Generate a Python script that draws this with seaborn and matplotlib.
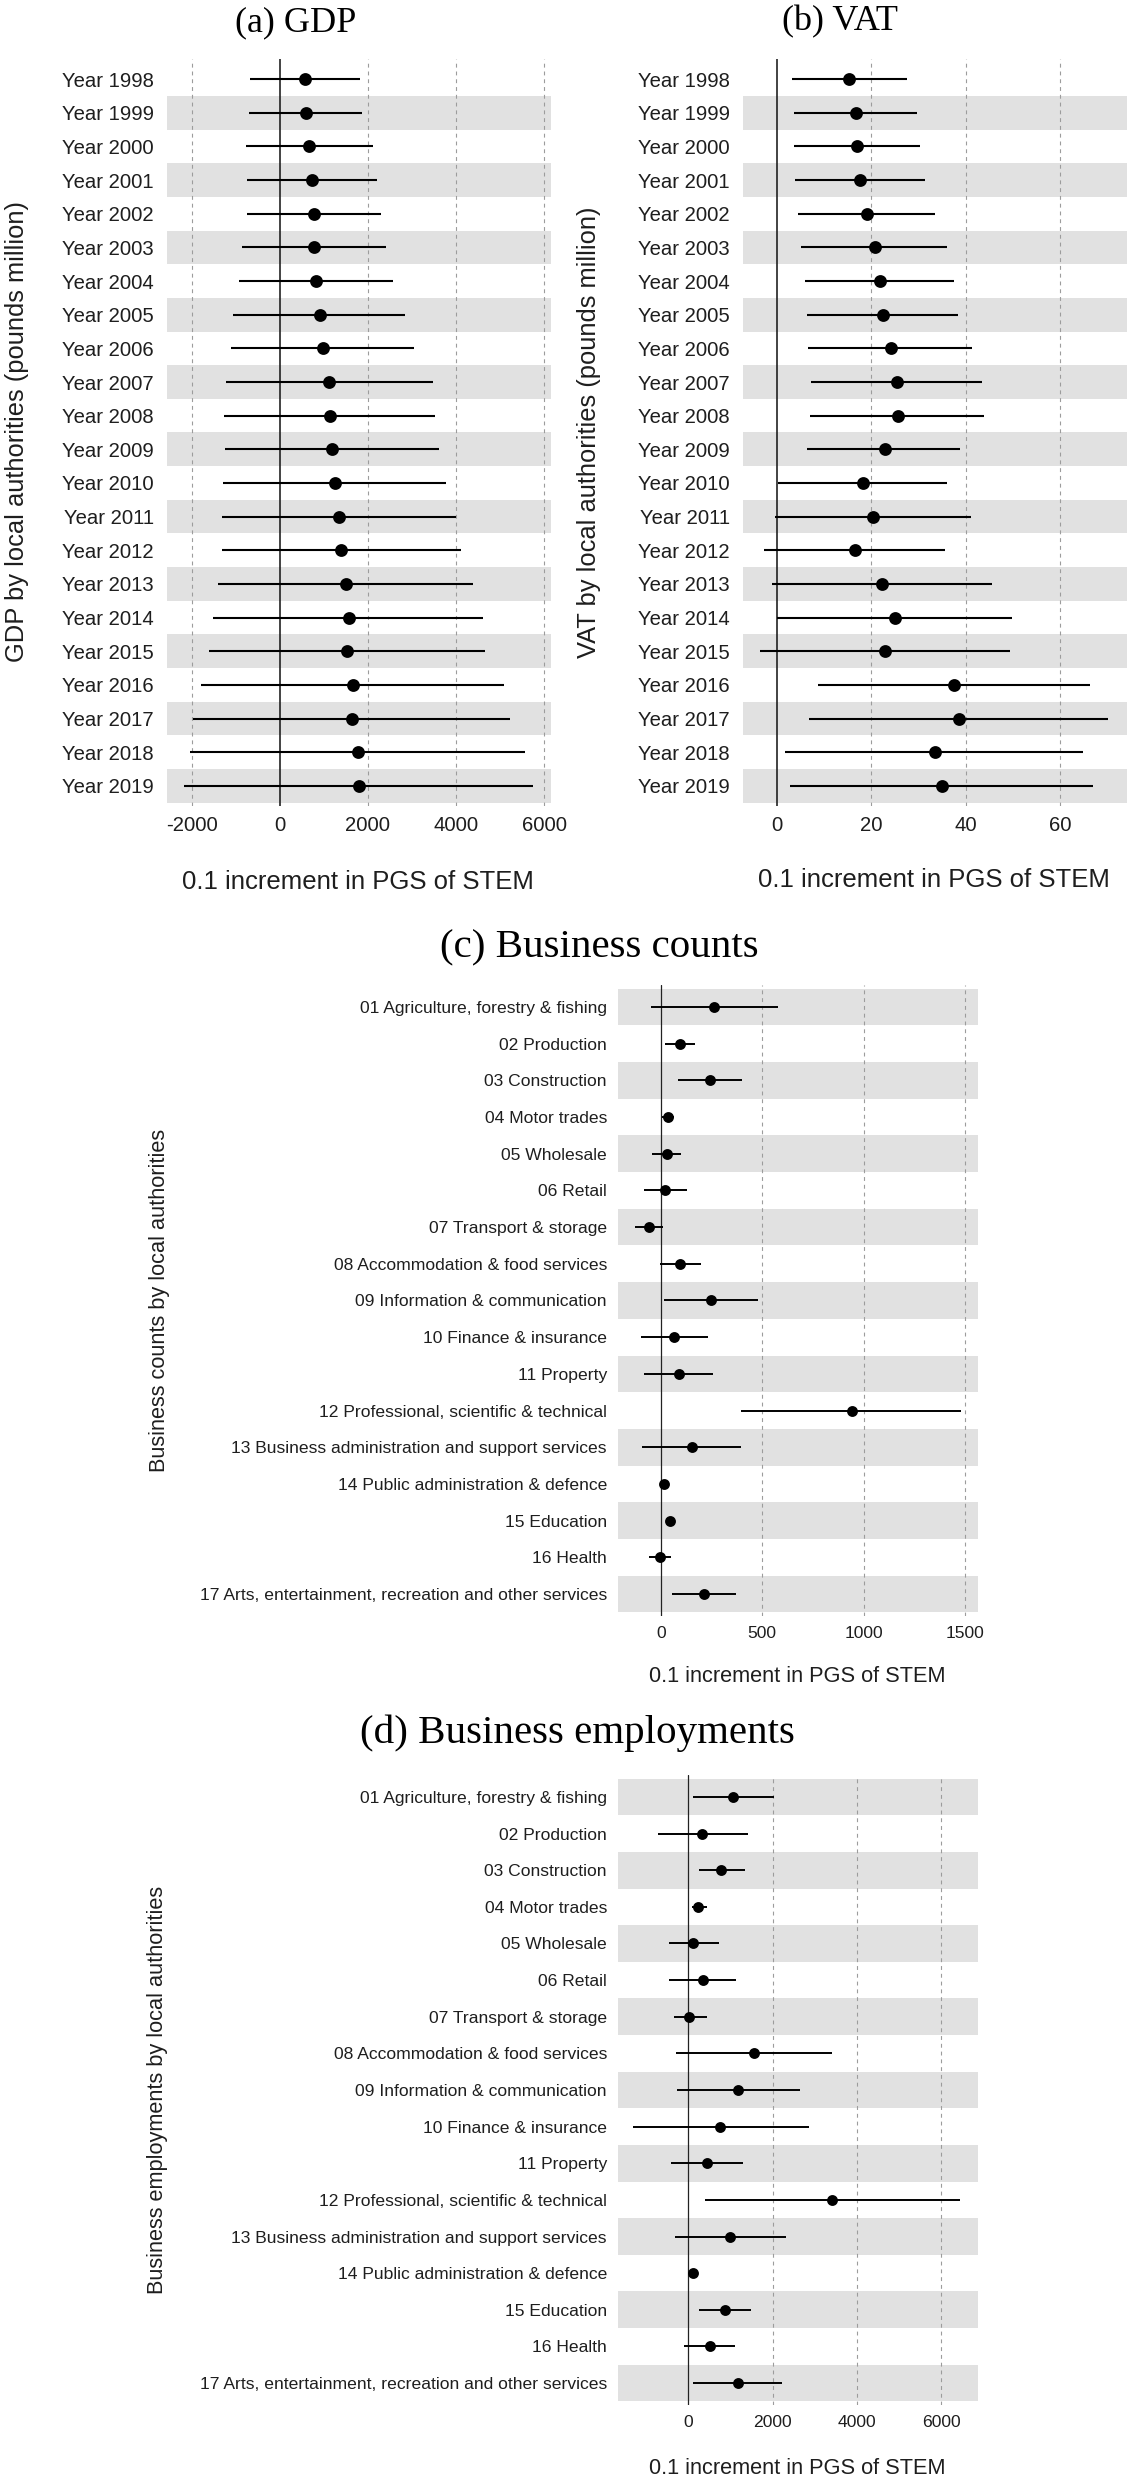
import numpy as np
import pandas as pd
import matplotlib
matplotlib.use("Agg")
import matplotlib.pyplot as plt
import seaborn as sns

# ---------------- data ----------------
years = ["Year 1998", "Year 1999", "Year 2000", "Year 2001", "Year 2002", "Year 2003",
         "Year 2004", "Year 2005", "Year 2006", "Year 2007", "Year 2008", "Year 2009",
         "Year 2010", "Year 2011", "Year 2012", "Year 2013", "Year 2014", "Year 2015",
         "Year 2016", "Year 2017", "Year 2018", "Year 2019"]

gdp_est = [576, 593, 666, 731, 763, 763, 828, 909, 982, 1121, 1137, 1186, 1259, 1340,
           1389, 1494, 1559, 1518, 1656, 1632, 1762, 1803]
gdp_lo = [-675, -710, -772, -740, -760, -866, -930, -1064, -1104, -1234, -1275, -1250,
          -1299, -1315, -1324, -1405, -1518, -1608, -1786, -1973, -2054, -2176]
gdp_hi = [1818, 1873, 2105, 2195, 2293, 2403, 2575, 2850, 3053, 3467, 3524, 3621,
          3784, 3995, 4109, 4377, 4612, 4653, 5091, 5229, 5570, 5757]

vat_est = [15.3, 16.7, 17.0, 17.6, 19.0, 20.7, 21.8, 22.4, 24.1, 25.5, 25.7, 22.8,
           18.2, 20.4, 16.5, 22.3, 25.0, 23.0, 37.6, 38.5, 33.4, 34.9]
vat_lo = [3.1, 3.7, 3.7, 3.9, 4.5, 5.1, 6.0, 6.4, 6.6, 7.2, 7.1, 6.3,
          0.2, -0.5, -2.8, -1.1, 0.1, -3.7, 8.7, 6.7, 1.7, 2.8]
vat_hi = [27.5, 29.6, 30.3, 31.3, 33.5, 36.1, 37.5, 38.3, 41.4, 43.5, 43.9, 38.9,
          36.0, 41.2, 35.6, 45.6, 49.9, 49.5, 66.4, 70.2, 64.8, 67.0]

sectors = ["01 Agriculture, forestry & fishing", "02 Production", "03 Construction",
           "04 Motor trades", "05 Wholesale", "06 Retail", "07 Transport & storage",
           "08 Accommodation & food services", "09 Information & communication",
           "10 Finance & insurance", "11 Property", "12 Professional, scientific & technical",
           "13 Business administration and support services",
           "14 Public administration & defence", "15 Education", "16 Health",
           "17 Arts, entertainment, recreation and other services"]

cnt_est = [264, 94, 242, 34, 29, 21, -60, 96, 248, 64, 89, 943, 152, 14, 43, -7, 213]
cnt_lo = [-48, 19, 86, 6, -46, -82, -128, -4, 14, -99, -82, 397, -92, 2, 25, -57, 57]
cnt_hi = [576, 170, 400, 66, 101, 128, 11, 199, 479, 230, 259, 1479, 394, 28, 60, 50, 369]

emp_est = [1074, 341, 784, 239, 119, 358, 34, 1569, 1193, 767, 460, 3415, 998, 127, 876, 516, 1182]
emp_lo = [119, -699, 256, 102, -460, -443, -341, -273, -256, -1296, -392, 392, -307, 17, 258, -86, 122]
emp_hi = [2029, 1415, 1347, 443, 733, 1142, 460, 3410, 2643, 2864, 1313, 6443, 2321, 205, 1498, 1109, 2226]

# ---------------- style ----------------
sns.set_style("white")
plt.rcParams["font.family"] = ["Liberation Sans", "DejaVu Sans"]

W, H = 1128, 2480
fig = plt.figure(figsize=(W / 100, H / 100), dpi=100)
BAND = "#e1e1e1"
GRID = "#9c9c9c"
TXT = "#1e1e1e"


def fx(x):
    return x / W


def fy(y):
    return 1 - y / H


def panel(rect, labels, est, lo, hi, xlim, xticks, tick_fs, msize, elw, zlw, pad_y):
    l, r, t, b = rect
    ax = fig.add_axes([fx(l), fy(b), (r - l) / W, (b - t) / H])
    df = pd.DataFrame({"label": labels, "est": est, "lo": lo, "hi": hi})
    n = len(labels)
    # shaded bands alternate starting from the bottom row
    for i in range(n - 1, -1, -2):
        ax.axhspan(i - 0.5, i + 0.5, color=BAND, lw=0, zorder=0)
    for xt in xticks:
        if xt != 0:
            ax.axvline(xt, color=GRID, lw=0.8, ls=(0, (3.5, 3.5)), zorder=1)
    ax.axvline(0, color="#222222", lw=zlw, zorder=2)
    ax.hlines(y=np.arange(n), xmin=df["lo"], xmax=df["hi"], color="black", lw=elw, zorder=3)
    sns.pointplot(data=df, x="est", y="label", order=labels, color="black",
                  linestyle="none", markers="o", markersize=msize, errorbar=None,
                  ax=ax, zorder=4)
    ax.set_ylim(n - 1 + 0.6, -0.6)
    ax.set_xlim(*xlim)
    ax.set_xticks(xticks)
    ax.set_xticklabels([str(v) for v in xticks])
    ax.set_xlabel("")
    ax.set_ylabel("")
    ax.grid(False)
    for s in ax.spines.values():
        s.set_visible(False)
    ax.tick_params(axis="both", length=0, labelsize=tick_fs, colors=TXT)
    ax.tick_params(axis="y", pad=pad_y)
    ax.tick_params(axis="x", pad=7)
    return ax


# (a) GDP
panel((167, 551, 59, 806), years, gdp_est, gdp_lo, gdp_hi, (-2568, 6159),
      [-2000, 0, 2000, 4000, 6000], 14.6, 7.2, 1.5, 1.2, 9.5)
# (b) VAT
panel((743, 1127, 59, 806), years, vat_est, vat_lo, vat_hi, (-7.2, 74.2),
      [0, 20, 40, 60], 14.6, 7.2, 1.5, 1.2, 9.5)
# (c) Business counts
panel((618, 978, 985, 1616), sectors, cnt_est, cnt_lo, cnt_hi, (-212, 1565),
      [0, 500, 1000, 1500], 12.6, 5.8, 1.4, 0.9, 8)
# (d) Business employments
panel((618, 978, 1775, 2405), sectors, emp_est, emp_lo, emp_hi, (-1657, 6864),
      [0, 2000, 4000, 6000], 12.6, 5.8, 1.4, 0.9, 8)

serif = ["Liberation Serif", "DejaVu Serif"]
fig.text(fx(296), fy(23), "(a) GDP", family=serif, fontsize=26, ha="center", va="center", color="black")
fig.text(fx(840), fy(22), "(b) VAT", family=serif, fontsize=26, ha="center", va="center", color="black")
fig.text(fx(599), fy(948), "(c) Business counts", family=serif, fontsize=29.5, ha="center", va="center", color="black")
fig.text(fx(577), fy(1733), "(d) Business employments", family=serif, fontsize=29.5, ha="center", va="center", color="black")

xl = "0.1 increment in PGS of STEM"
fig.text(fx(358), fy(882), xl, fontsize=18.5, ha="center", va="center", color=TXT)
fig.text(fx(934), fy(880), xl, fontsize=18.5, ha="center", va="center", color=TXT)
fig.text(fx(797), fy(1676), xl, fontsize=15.7, ha="center", va="center", color=TXT)
fig.text(fx(797), fy(2468), xl, fontsize=15.7, ha="center", va="center", color=TXT)

fig.text(fx(17), fy(432), "GDP by local authorities (pounds million)", fontsize=18.4,
         rotation=90, ha="center", va="center", color=TXT)
fig.text(fx(589), fy(432), "VAT by local authorities (pounds million)", fontsize=18.4,
         rotation=90, ha="center", va="center", color=TXT)
fig.text(fx(160), fy(1300), "Business counts by local authorities", fontsize=15.7,
         rotation=90, ha="center", va="center", color=TXT)
fig.text(fx(158), fy(2090), "Business employments by local authorities", fontsize=15.7,
         rotation=90, ha="center", va="center", color=TXT)

fig.savefig("out.png", dpi=100, facecolor="white")
